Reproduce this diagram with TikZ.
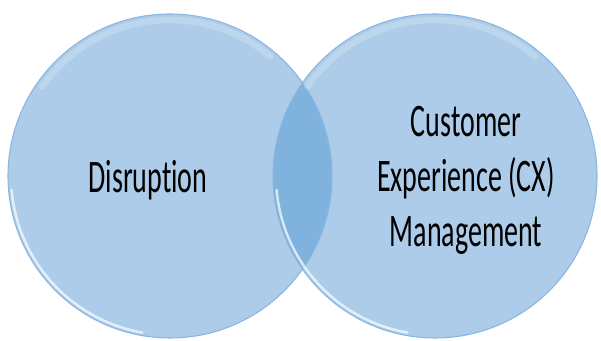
\documentclass[tikz,border=0pt]{standalone}
\usepackage{fontspec}
\setmainfont{Carlito}[Ligatures=NoCommon]
\usetikzlibrary{positioning}

\definecolor{bubbleBlue}{RGB}{172,204,233}
\definecolor{lensBlue}{RGB}{128,178,222}
\definecolor{rimBlue}{RGB}{138,182,226}

\begin{document}
\begin{tikzpicture}[x=0.75pt, y=0.75pt,
    bubble/.style={circle, minimum size=243pt, inner sep=0pt, fill=bubbleBlue},
    rim/.style={draw=rimBlue, line width=0.8pt},
    shine/.style={white, line width=1.8pt, opacity=0.7, line cap=round},
    glow/.style={white, line width=5pt, opacity=0.2, line cap=round},
    bubble text/.style={align=center, anchor=base, xscale=0.6,
        font=\fontsize{35}{41.25}\selectfont}]

    \def\r{162}
    \useasboundingbox (0, 0) rectangle (601, 341);

    % the two bubbles
    \node [bubble] (disruption) at (170, 165) {};
    \node [bubble] (cx) at (435, 165) {};

    % overlap
    \begin{scope}
        \clip (disruption.center) circle (\r);
        \fill [lensBlue] (cx.center) circle (\r);
    \end{scope}

    % rims and highlights
    \foreach \b in {disruption, cx}{
        \draw [glow] (\b.center) ++(50:\r-6) arc (50:145:\r-6);
        \draw [shine] (\b.center) ++(185:\r-3) arc (185:260:\r-3);
        \draw [rim] (\b.center) circle (\r);
    }

    % labels
    \node [bubble text] (disruption label) at (148, 148) {Disruption};
    \node [bubble text] (cx label) at (466, 94)
        {Customer\\Experience (CX)\\Management};
\end{tikzpicture}
\end{document}
